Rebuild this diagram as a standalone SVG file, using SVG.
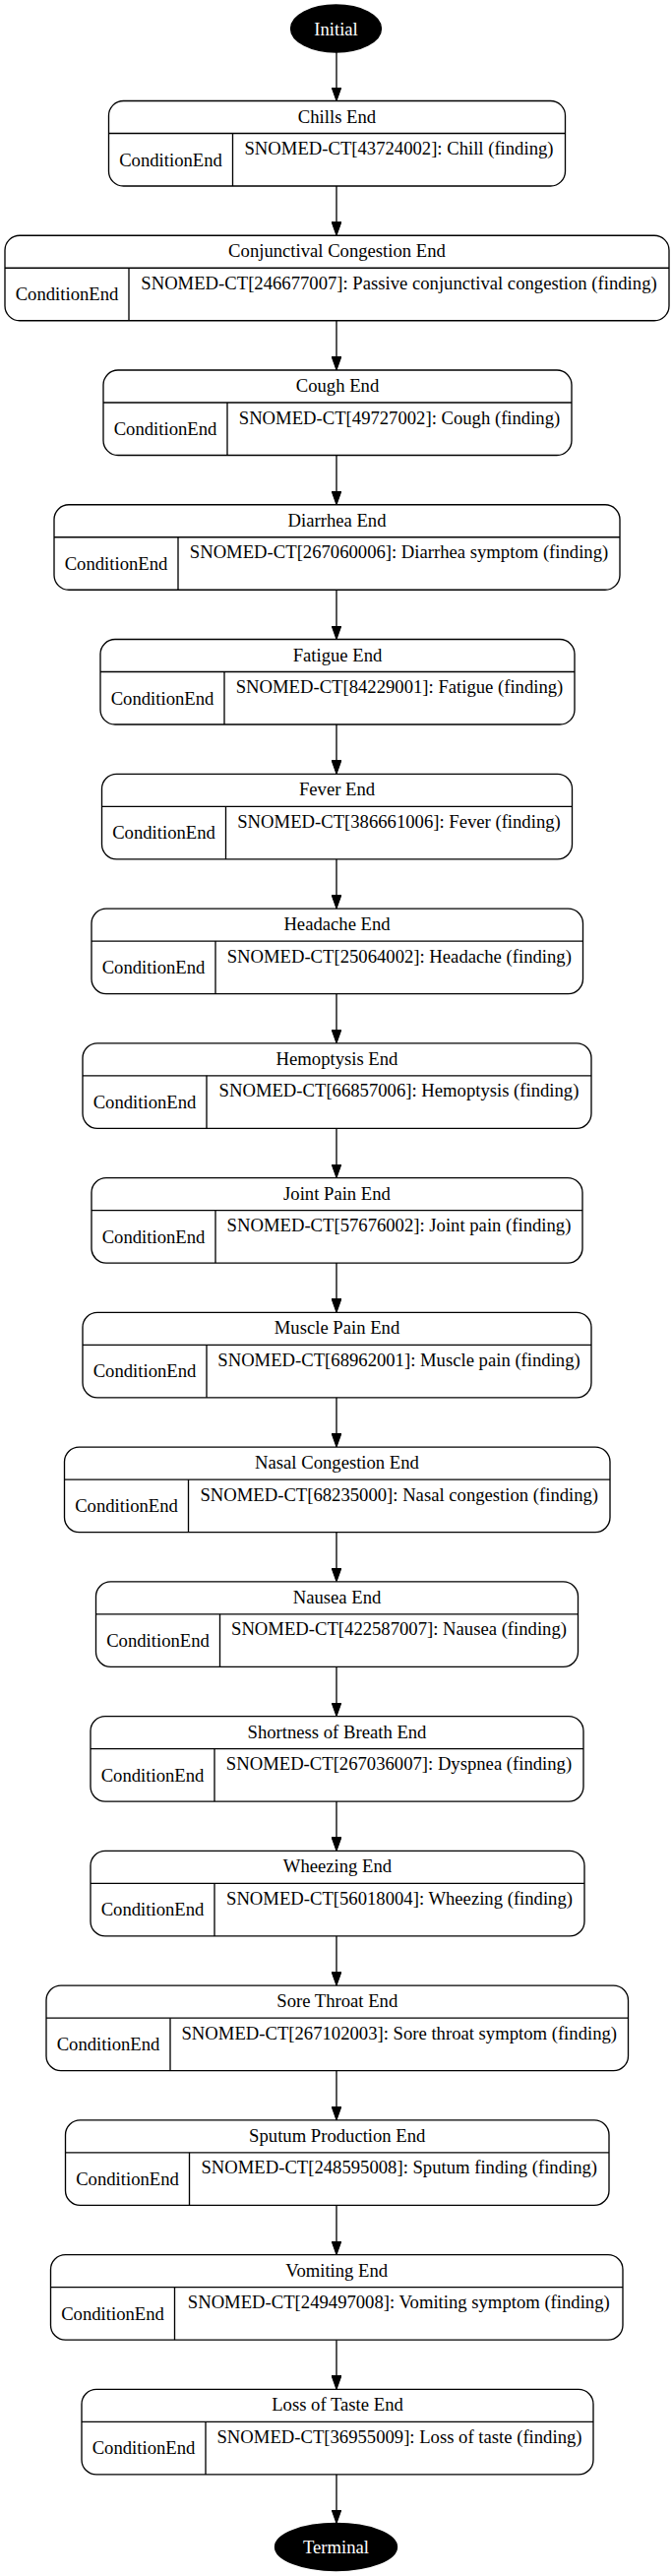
<svg xmlns="http://www.w3.org/2000/svg" width="683" height="2617" viewBox="0 0 683 2617">
<style>
text{font-family:"Liberation Serif","Times New Roman",serif;font-size:18.67px;fill:#000;text-anchor:middle}
.w{fill:#fff}
.box{fill:#fff;stroke:#000;stroke-width:1.33}
.ln{stroke:#000;stroke-width:1.33;fill:none}
.edge{stroke:#000;stroke-width:1.33;fill:none;marker-end:url(#arr)}
</style>
<defs>
<marker id="arr" viewBox="0 0 14 10" refX="14" refY="5" markerWidth="14" markerHeight="10" markerUnits="userSpaceOnUse" orient="auto">
<path d="M0,0 L14,5 L0,10 z" fill="#000" stroke="#000" stroke-width="1"/>
</marker>
</defs>
<rect width="683" height="2617" fill="#fff"/>
<g id="edges">
<line class="edge" x1="342" y1="53" x2="342" y2="102.5"/>
<line class="edge" x1="342" y1="189" x2="342" y2="239.26"/>
<line class="edge" x1="342" y1="325.76" x2="342" y2="376.02"/>
<line class="edge" x1="342" y1="462.52" x2="342" y2="512.78"/>
<line class="edge" x1="342" y1="599.28" x2="342" y2="649.54"/>
<line class="edge" x1="342" y1="736.04" x2="342" y2="786.3"/>
<line class="edge" x1="342" y1="872.8" x2="342" y2="923.06"/>
<line class="edge" x1="342" y1="1009.56" x2="342" y2="1059.82"/>
<line class="edge" x1="342" y1="1146.32" x2="342" y2="1196.58"/>
<line class="edge" x1="342" y1="1283.08" x2="342" y2="1333.34"/>
<line class="edge" x1="342" y1="1419.84" x2="342" y2="1470.1"/>
<line class="edge" x1="342" y1="1556.6" x2="342" y2="1606.86"/>
<line class="edge" x1="342" y1="1693.36" x2="342" y2="1743.62"/>
<line class="edge" x1="342" y1="1830.12" x2="342" y2="1880.38"/>
<line class="edge" x1="342" y1="1966.88" x2="342" y2="2017.14"/>
<line class="edge" x1="342" y1="2103.64" x2="342" y2="2153.9"/>
<line class="edge" x1="342" y1="2240.4" x2="342" y2="2290.66"/>
<line class="edge" x1="342" y1="2377.16" x2="342" y2="2427.42"/>
<line class="edge" x1="342" y1="2513.92" x2="342" y2="2563.5"/>
</g>
<g id="initial">
<ellipse cx="341.5" cy="29" rx="46" ry="24" fill="#000" stroke="#000" stroke-width="1.33"/>
<text class="w" x="341.5" y="35.5">Initial</text>
</g>
<g id="n0" transform="translate(0,102.5)">
<rect class="box" x="110.5" y="0" width="464" height="86.5" rx="15"/>
<line class="ln" x1="110.5" y1="33" x2="574.5" y2="33"/><line class="ln" x1="236.5" y1="33" x2="236.5" y2="86.5"/>
<text x="342.5" y="22">Chills End</text><text x="173.5" y="66">ConditionEnd</text>
<text x="405.5" y="54.5">SNOMED-CT[43724002]: Chill (finding)</text>
</g>
<g id="n1" transform="translate(0,239.26)">
<rect class="box" x="5" y="0" width="675" height="86.5" rx="15"/>
<line class="ln" x1="5" y1="33" x2="680" y2="33"/><line class="ln" x1="131" y1="33" x2="131" y2="86.5"/>
<text x="342.5" y="22">Conjunctival Congestion End</text><text x="68" y="66">ConditionEnd</text>
<text x="405.5" y="54.5">SNOMED-CT[246677007]: Passive conjunctival congestion (finding)</text>
</g>
<g id="n2" transform="translate(0,376.02)">
<rect class="box" x="105" y="0" width="476" height="86.5" rx="15"/>
<line class="ln" x1="105" y1="33" x2="581" y2="33"/><line class="ln" x1="231" y1="33" x2="231" y2="86.5"/>
<text x="343" y="22">Cough End</text><text x="168" y="66">ConditionEnd</text>
<text x="406" y="54.5">SNOMED-CT[49727002]: Cough (finding)</text>
</g>
<g id="n3" transform="translate(0,512.78)">
<rect class="box" x="55" y="0" width="575" height="86.5" rx="15"/>
<line class="ln" x1="55" y1="33" x2="630" y2="33"/><line class="ln" x1="181" y1="33" x2="181" y2="86.5"/>
<text x="342.5" y="22">Diarrhea End</text><text x="118" y="66">ConditionEnd</text>
<text x="405.5" y="54.5">SNOMED-CT[267060006]: Diarrhea symptom (finding)</text>
</g>
<g id="n4" transform="translate(0,649.54)">
<rect class="box" x="102" y="0" width="482" height="86.5" rx="15"/>
<line class="ln" x1="102" y1="33" x2="584" y2="33"/><line class="ln" x1="228" y1="33" x2="228" y2="86.5"/>
<text x="343" y="22">Fatigue End</text><text x="165" y="66">ConditionEnd</text>
<text x="406" y="54.5">SNOMED-CT[84229001]: Fatigue (finding)</text>
</g>
<g id="n5" transform="translate(0,786.3)">
<rect class="box" x="103.5" y="0" width="478" height="86.5" rx="15"/>
<line class="ln" x1="103.5" y1="33" x2="581.5" y2="33"/><line class="ln" x1="229.5" y1="33" x2="229.5" y2="86.5"/>
<text x="342.5" y="22">Fever End</text><text x="166.5" y="66">ConditionEnd</text>
<text x="405.5" y="54.5">SNOMED-CT[386661006]: Fever (finding)</text>
</g>
<g id="n6" transform="translate(0,923.06)">
<rect class="box" x="93" y="0" width="499.5" height="86.5" rx="15"/>
<line class="ln" x1="93" y1="33" x2="592.5" y2="33"/><line class="ln" x1="219" y1="33" x2="219" y2="86.5"/>
<text x="342.5" y="22">Headache End</text><text x="156" y="66">ConditionEnd</text>
<text x="405.75" y="54.5">SNOMED-CT[25064002]: Headache (finding)</text>
</g>
<g id="n7" transform="translate(0,1059.82)">
<rect class="box" x="84" y="0" width="517" height="86.5" rx="15"/>
<line class="ln" x1="84" y1="33" x2="601" y2="33"/><line class="ln" x1="210" y1="33" x2="210" y2="86.5"/>
<text x="342.5" y="22">Hemoptysis End</text><text x="147" y="66">ConditionEnd</text>
<text x="405.5" y="54.5">SNOMED-CT[66857006]: Hemoptysis (finding)</text>
</g>
<g id="n8" transform="translate(0,1196.58)">
<rect class="box" x="93" y="0" width="499" height="86.5" rx="15"/>
<line class="ln" x1="93" y1="33" x2="592" y2="33"/><line class="ln" x1="219" y1="33" x2="219" y2="86.5"/>
<text x="342.5" y="22">Joint Pain End</text><text x="156" y="66">ConditionEnd</text>
<text x="405.5" y="54.5">SNOMED-CT[57676002]: Joint pain (finding)</text>
</g>
<g id="n9" transform="translate(0,1333.34)">
<rect class="box" x="84" y="0" width="517" height="86.5" rx="15"/>
<line class="ln" x1="84" y1="33" x2="601" y2="33"/><line class="ln" x1="210" y1="33" x2="210" y2="86.5"/>
<text x="342.5" y="22">Muscle Pain End</text><text x="147" y="66">ConditionEnd</text>
<text x="405.5" y="54.5">SNOMED-CT[68962001]: Muscle pain (finding)</text>
</g>
<g id="n10" transform="translate(0,1470.1)">
<rect class="box" x="65.5" y="0" width="554.5" height="86.5" rx="15"/>
<line class="ln" x1="65.5" y1="33" x2="620" y2="33"/><line class="ln" x1="191.5" y1="33" x2="191.5" y2="86.5"/>
<text x="342.5" y="22">Nasal Congestion End</text><text x="128.5" y="66">ConditionEnd</text>
<text x="405.75" y="54.5">SNOMED-CT[68235000]: Nasal congestion (finding)</text>
</g>
<g id="n11" transform="translate(0,1606.86)">
<rect class="box" x="97.5" y="0" width="490" height="86.5" rx="15"/>
<line class="ln" x1="97.5" y1="33" x2="587.5" y2="33"/><line class="ln" x1="223.5" y1="33" x2="223.5" y2="86.5"/>
<text x="342.5" y="22">Nausea End</text><text x="160.5" y="66">ConditionEnd</text>
<text x="405.5" y="54.5">SNOMED-CT[422587007]: Nausea (finding)</text>
</g>
<g id="n12" transform="translate(0,1743.62)">
<rect class="box" x="92" y="0" width="501" height="86.5" rx="15"/>
<line class="ln" x1="92" y1="33" x2="593" y2="33"/><line class="ln" x1="218" y1="33" x2="218" y2="86.5"/>
<text x="342.5" y="22">Shortness of Breath End</text><text x="155" y="66">ConditionEnd</text>
<text x="405.5" y="54.5">SNOMED-CT[267036007]: Dyspnea (finding)</text>
</g>
<g id="n13" transform="translate(0,1880.38)">
<rect class="box" x="92" y="0" width="502" height="86.5" rx="15"/>
<line class="ln" x1="92" y1="33" x2="594" y2="33"/><line class="ln" x1="218" y1="33" x2="218" y2="86.5"/>
<text x="343" y="22">Wheezing End</text><text x="155" y="66">ConditionEnd</text>
<text x="406" y="54.5">SNOMED-CT[56018004]: Wheezing (finding)</text>
</g>
<g id="n14" transform="translate(0,2017.14)">
<rect class="box" x="47" y="0" width="591.5" height="86.5" rx="15"/>
<line class="ln" x1="47" y1="33" x2="638.5" y2="33"/><line class="ln" x1="173" y1="33" x2="173" y2="86.5"/>
<text x="342.75" y="22">Sore Throat End</text><text x="110" y="66">ConditionEnd</text>
<text x="405.75" y="54.5">SNOMED-CT[267102003]: Sore throat symptom (finding)</text>
</g>
<g id="n15" transform="translate(0,2153.9)">
<rect class="box" x="66.5" y="0" width="552.5" height="86.5" rx="15"/>
<line class="ln" x1="66.5" y1="33" x2="619" y2="33"/><line class="ln" x1="192.5" y1="33" x2="192.5" y2="86.5"/>
<text x="342.75" y="22">Sputum Production End</text><text x="129.5" y="66">ConditionEnd</text>
<text x="405.75" y="54.5">SNOMED-CT[248595008]: Sputum finding (finding)</text>
</g>
<g id="n16" transform="translate(0,2290.66)">
<rect class="box" x="51.5" y="0" width="581.5" height="86.5" rx="15"/>
<line class="ln" x1="51.5" y1="33" x2="633" y2="33"/><line class="ln" x1="177.5" y1="33" x2="177.5" y2="86.5"/>
<text x="342.25" y="22">Vomiting End</text><text x="114.5" y="66">ConditionEnd</text>
<text x="405.25" y="54.5">SNOMED-CT[249497008]: Vomiting symptom (finding)</text>
</g>
<g id="n17" transform="translate(0,2427.42)">
<rect class="box" x="83" y="0" width="520" height="86.5" rx="15"/>
<line class="ln" x1="83" y1="33" x2="603" y2="33"/><line class="ln" x1="209" y1="33" x2="209" y2="86.5"/>
<text x="343" y="22">Loss of Taste End</text><text x="146" y="66">ConditionEnd</text>
<text x="406" y="54.5">SNOMED-CT[36955009]: Loss of taste (finding)</text>
</g>
<g id="terminal">
<ellipse cx="341.5" cy="2587.5" rx="62" ry="24" fill="#000" stroke="#000" stroke-width="1.33"/>
<text class="w" x="341.5" y="2594">Terminal</text>
</g>
</svg>
